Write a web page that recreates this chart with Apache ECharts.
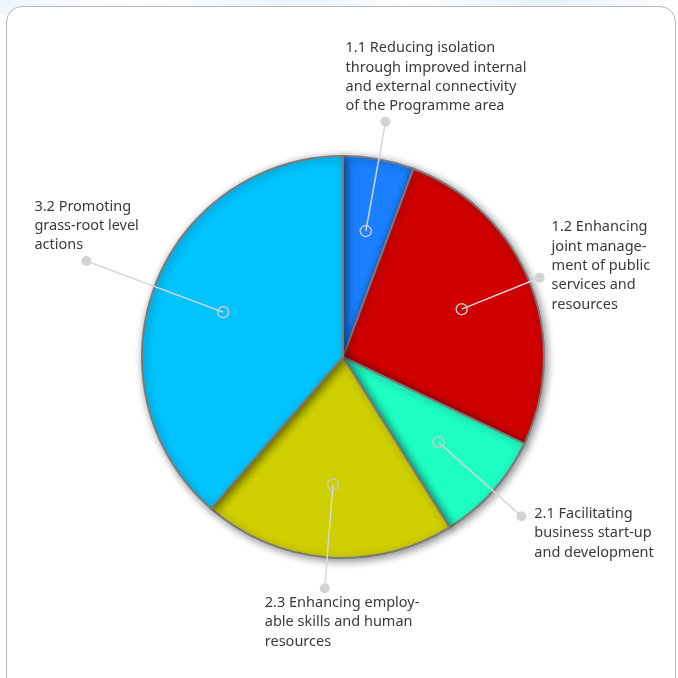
<!DOCTYPE html>
<html>
<head>
<meta charset="utf-8">
<script src="https://cdn.jsdelivr.net/npm/echarts@6/dist/echarts.min.js"></script>
<style>
  html, body { margin: 0; padding: 0; background: #fff; }
  #wrap { position: relative; width: 678px; height: 678px; overflow: hidden; background: #fff; }
  #bg { position: absolute; left: 0; top: 0; width: 678px; height: 14px;
        background: linear-gradient(90deg, #eef5fb 0%, #fff 20%, #eaf3fb 45%, #fff 60%, #e6f1fa 80%, #fff 100%); }
  #panel { position: absolute; left: 6px; top: 6px; width: 668px; height: 690px;
           border: 1px solid #b8b8b8; border-radius: 16px; background: #fff; }
  #chart { position: absolute; left: 0; top: 0; width: 678px; height: 678px; }
</style>
</head>
<body>
<div id="wrap">
  <div id="bg"></div>
  <div id="panel"></div>
  <div id="chart"></div>
</div>
<script>
// ---- data ----
const categories = [
  "1.1 Reducing isolation\nthrough improved internal\nand external connectivity\nof the Programme area",
  "1.2 Enhancing\njoint manage-\nment of public\nservices and\nresources",
  "2.1 Facilitating\nbusiness start-up\nand development",
  "2.3 Enhancing employ-\nable skills and human\nresources",
  "3.2 Promoting\ngrass-root level\nactions"
];
const values = [5.7, 26.4, 9.0, 20.3, 38.6];
const colors = ["#1a80ff", "#d00000", "#1effc4", "#cfcf00", "#00c4ff"];

// ---- layout / style (not data) ----
const CX = 343, CY = 357, R = 201;
const innerR = 128;                       // where the leader line starts (ring marker)
const outerR = [239, 212, 239, 232, 274]; // where the leader line ends (dot)
const labelPos = [
  { offset: [-35, -1], va: 'bottom' },
  { offset: [17, -55], va: 'top' },
  { offset: [18, -7], va: 'top' },
  { offset: [-55, 10], va: 'top' },
  { offset: [-47, -1], va: 'bottom' }
];

const total = values.reduce((a, b) => a + b, 0);
let cum = 0;
const mids = values.map(v => { const m = cum + v / 2; cum += v; return m; });

const leaderSeries = categories.map((name, i) => ({
  type: 'line',
  coordinateSystem: 'polar',
  clip: false,
  silent: true,
  z: 10,
  lineStyle: { color: '#d6d6d6', width: 1.5 },
  data: [
    { value: [innerR, mids[i]], symbol: 'circle', symbolSize: 11,
      itemStyle: { color: 'rgba(0,0,0,0)', borderColor: '#c8c8c8', borderWidth: 1.5 } },
    { value: [outerR[i], mids[i]], symbol: 'circle', symbolSize: 10,
      itemStyle: { color: '#d3d3d3', borderWidth: 0 },
      label: {
        show: true,
        formatter: name,
        position: labelPos[i].offset,
        align: 'left',
        verticalAlign: labelPos[i].va,
        fontFamily: 'Noto Sans',
        fontSize: 14.5,
        lineHeight: 19.3,
        color: '#3a3a3a'
      } }
  ]
}));

const chart = echarts.init(document.getElementById('chart'), null, { renderer: 'canvas' });
chart.setOption({
  animation: false,
  backgroundColor: 'transparent',
  polar: { center: [CX, CY], radius: 300 },
  angleAxis: { type: 'value', min: 0, max: total, startAngle: 90, clockwise: true, show: false },
  radiusAxis: { type: 'value', min: 0, max: 300, show: false },
  series: [
    {
      type: 'pie',
      center: [CX, CY],
      radius: [0, R],
      startAngle: 90,
      clockwise: true,
      silent: true,
      label: { show: false },
      labelLine: { show: false },
      itemStyle: {
        borderColor: '#7a7a7a',
        borderWidth: 2,
        shadowBlur: 8,
        shadowColor: 'rgba(0,0,0,0.45)',
        shadowOffsetX: 2,
        shadowOffsetY: 2
      },
      data: categories.map((c, i) => ({ name: c, value: values[i], itemStyle: { color: colors[i] } }))
    },
    ...leaderSeries
  ]
});
</script>
</body>
</html>
